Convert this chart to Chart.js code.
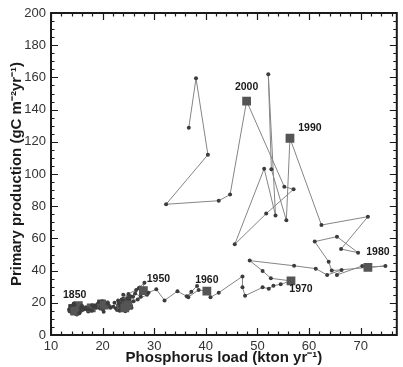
<!DOCTYPE html>
<html>
<head>
<meta charset="utf-8">
<script src="https://cdn.jsdelivr.net/npm/chart.js@4.4.1/dist/chart.umd.min.js"></script>
<style>
  html, body { margin: 0; padding: 0; background: #fff; }
</style>
</head>
<body>
<canvas id="graphic" width="403" height="367"></canvas>
<script>
//first year of the record, after that there is one point per year
const firstYear = 1850;

//phosphorus load (kton yr-1), one value per year from 1850 on
const phosphorusLoad = [
    14.2, 13.6, 14.8, 15.5, 13.8, 14.6, 15.9, 15.2, 13.5, 14.9,
    15.3, 14.0, 15.6, 16.2, 14.4, 13.7, 15.0, 16.0, 14.5, 15.8,
    14.6, 16.5, 17.2, 16.0, 17.6, 15.5, 17.0, 18.2, 16.8, 17.5,
    17.8, 18.5, 17.3, 18.8, 17.9, 19.2, 18.3, 19.5, 18.0, 19.0,
    19.8, 20.4, 19.3, 20.2, 20.8, 19.6, 21.0, 20.0, 21.2, 19.9,
    20.3, 21.5, 22.1, 21.0, 22.6, 23.0, 22.3, 23.4, 22.8, 23.6,
    23.6, 24.2, 23.0, 24.6, 23.3, 24.0, 25.0, 23.8, 24.4, 25.3,
    24.6, 23.5, 25.2, 24.0, 25.5, 24.8, 23.2, 25.0, 24.3, 25.6,
    24.3, 25.0, 23.7, 25.4, 24.5, 25.9, 24.0, 25.2, 26.5, 25.0,
    24.9, 26.0, 27.4, 26.3, 27.0, 28.1, 27.5, 26.8, 28.6, 27.2,
    27.9, 28.9, 30.4, 32.0, 34.5, 36.3, 38.3, 37.2, 36.6, 38.6,
    40.2, 40.9, 42.5, 47.1, 47.1, 47.6, 51.0, 52.2, 53.1, 54.5,
    56.5, 52.6, 51.0, 48.5, 57.1, 61.3, 63.5, 66.3, 65.4, 70.3,
    71.4, 74.8, 64.4, 63.8, 61.1, 65.4, 69.5, 66.2, 71.4, 62.4,
    56.3, 55.6, 52.7, 52.1, 53.5, 51.3, 45.6, 51.7, 57.0, 55.2,
    47.9, 44.7, 42.5, 32.3, 40.4, 38.1, 36.7
];

//primary production (gC m-2 yr-1), same years
const primaryProduction = [
    16.5, 14.8, 13.2, 16.0, 17.8, 19.0, 18.2, 15.0, 15.8, 17.2,
    18.2, 13.8, 14.5, 17.0, 19.5, 16.3, 12.8, 15.5, 18.5, 16.8,
    14.8, 16.2, 14.6, 18.0, 17.5, 13.5, 15.8, 16.8, 17.2, 15.2,
    16.8, 18.2, 16.0, 17.0, 15.0, 18.0, 17.6, 16.5, 18.5, 19.2,
    19.3, 17.5, 20.5, 14.5, 18.6, 17.2, 20.2, 16.0, 18.0, 21.0,
    18.5, 17.0, 17.6, 19.5, 16.5, 18.2, 20.0, 17.0, 15.5, 19.2,
    18.0, 16.0, 21.5, 19.0, 15.0, 22.5, 17.5, 20.2, 14.8, 19.8,
    20.2, 17.8, 21.8, 15.6, 18.2, 23.0, 19.5, 16.4, 21.0, 17.0,
    16.8, 19.2, 22.0, 24.0, 18.0, 23.8, 25.0, 20.8, 28.0, 25.5,
    18.6, 21.0, 23.8, 25.8, 29.0, 32.5, 26.0, 22.0, 25.0, 29.5,
    27.5, 26.3, 28.4, 21.5, 27.2, 24.0, 30.5, 26.8, 23.5, 28.0,
    27.2, 23.4, 26.3, 36.4, 29.6, 24.4, 29.6, 28.8, 30.6, 31.5,
    33.6, 35.2, 39.8, 46.2, 43.0, 41.2, 37.3, 40.4, 37.3, 42.9,
    42.0, 42.9, 40.0, 45.5, 58.0, 61.1, 51.1, 53.4, 73.5, 68.3,
    122.2, 71.2, 102.9, 162.0, 74.3, 103.3, 56.3, 75.4, 90.5, 92.1,
    145.3, 87.2, 83.4, 81.2, 112.0, 159.4, 128.8
];

//years that get their number written next to the square
const labelledYears = [1850, 1950, 1960, 1970, 1980, 1990, 2000];

//axis ranges and steps
const xMin = 10, xMax = 77, xMajor = 10, xMinor = 2;
const yMin = 0, yMax = 200, yMajor = 20, yMinor = 5;

//build the points for the scatter line
let points = [];
for (let i = 0; i < phosphorusLoad.length; i++) {
    points.push({x: phosphorusLoad[i], y: primaryProduction[i]});
}

function isDecade(index) {
    return (firstYear + index) % 10 === 0;
}

const fontFamily = '"Liberation Sans", Arial, Helvetica, sans-serif';
Chart.defaults.font.family = fontFamily;

//where the year text sits relative to its square (pixels)
const labelOffsets = {
    1850: [2, -13], 1950: [15, -12], 1960: [0, -11], 1970: [10, 8],
    1980: [10, -15], 1990: [20, -10], 2000: [0, -14]
};

//year numbers next to the decade squares
const yearLabels = {
    id: 'yearLabels',
    afterDatasetsDraw(chart) {
        const ctx = chart.ctx;
        const xs = chart.scales.x, ys = chart.scales.y;
        ctx.save();
        ctx.font = 'bold 10.5px ' + fontFamily;
        ctx.fillStyle = '#1a1a1a';
        ctx.textAlign = 'center';
        ctx.textBaseline = 'middle';
        labelledYears.forEach(year => {
            const i = year - firstYear;
            const off = labelOffsets[year] || [0, -12];
            ctx.fillText(String(year),
                xs.getPixelForValue(phosphorusLoad[i]) + off[0],
                ys.getPixelForValue(primaryProduction[i]) + off[1]);
        });
        ctx.restore();
    }
};

//box round the plot with inward ticks on all four sides
const frameTicks = {
    id: 'frameTicks',
    afterDraw(chart) {
        const ctx = chart.ctx;
        const a = chart.chartArea;
        const xs = chart.scales.x, ys = chart.scales.y;
        ctx.save();
        ctx.strokeStyle = '#1a1a1a';
        ctx.lineWidth = 1.2;
        ctx.beginPath();
        for (let v = xMin; v <= xMax + 1e-9; v += xMinor) {
            const px = Math.round(xs.getPixelForValue(v)) + 0.5;
            const len = (v % xMajor === 0) ? 7 : 3.5;
            ctx.moveTo(px, a.bottom); ctx.lineTo(px, a.bottom - len);
            ctx.moveTo(px, a.top); ctx.lineTo(px, a.top + len);
        }
        for (let v = yMin; v <= yMax + 1e-9; v += yMinor) {
            const py = Math.round(ys.getPixelForValue(v)) + 0.5;
            const len = (v % yMajor === 0) ? 7 : 3.5;
            ctx.moveTo(a.left, py); ctx.lineTo(a.left + len, py);
            ctx.moveTo(a.right, py); ctx.lineTo(a.right - len, py);
        }
        ctx.stroke();
        ctx.lineWidth = 2;
        ctx.strokeRect(a.left, a.top, a.right - a.left, a.bottom - a.top);
        ctx.restore();
    }
};

const config = {
    type: 'scatter',
    data: {
        datasets: [{
            data: points,
            showLine: true,
            borderColor: '#858585',
            borderWidth: 1,
            pointStyle: c => isDecade(c.dataIndex) ? 'rect' : 'circle',
            pointRadius: c => isDecade(c.dataIndex) ? 6.2 : 2,
            pointBackgroundColor: c => isDecade(c.dataIndex) ? '#555555' : '#3c3c3c',
            pointBorderColor: c => isDecade(c.dataIndex) ? '#555555' : '#3c3c3c',
            pointBorderWidth: 0
        }]
    },
    options: {
        responsive: false,
        animation: false,
        devicePixelRatio: 1,
        layout: {padding: {top: 13, right: 1, left: 0, bottom: 0}},
        plugins: {legend: {display: false}, tooltip: {enabled: false}},
        scales: {
            x: {
                type: 'linear',
                min: xMin,
                max: xMax,
                grid: {display: false, drawTicks: false},
                border: {display: false},
                afterBuildTicks: s => { s.ticks = s.ticks.filter(t => t.value % xMajor === 0); },
                afterFit: s => { s.height = 32; },
                ticks: {stepSize: xMajor, padding: 4, color: '#333', font: {size: 13}, maxRotation: 0},
                title: {
                    display: true,
                    text: 'Phosphorus load (kton yr\u207B\u00B9)',
                    color: '#1a1a1a',
                    font: {size: 15, weight: 'bold'},
                    padding: {top: 0, bottom: 0}
                }
            },
            y: {
                type: 'linear',
                min: yMin,
                max: yMax,
                grid: {display: false, drawTicks: false},
                border: {display: false},
                afterFit: s => { s.width = 51; },
                ticks: {stepSize: yMajor, padding: 5, color: '#333', font: {size: 13}, autoSkip: false},
                title: {
                    display: true,
                    text: 'Primary production (gC m\u207B\u00B2yr\u207B\u00B9)',
                    color: '#1a1a1a',
                    font: {size: 15, weight: 'bold'},
                    padding: {top: 8, bottom: 0}
                }
            }
        }
    },
    plugins: [yearLabels, frameTicks]
};

let myChart = new Chart(document.getElementById("graphic"), config);
</script>
</body>
</html>
